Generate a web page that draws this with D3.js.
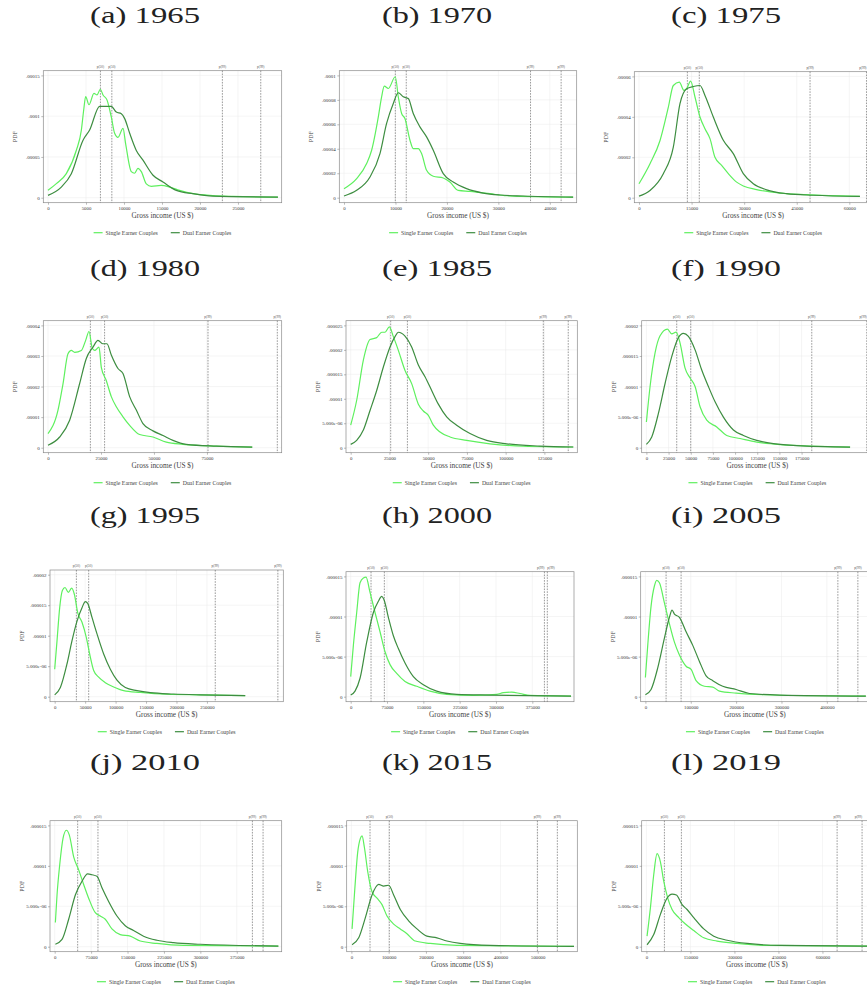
<!DOCTYPE html>
<html><head><meta charset="utf-8">
<script src="https://cdn.jsdelivr.net/npm/d3@7"></script>
<style>body{margin:0;background:#fff}svg{display:block}</style>
</head><body>
<svg id="chart" width="867" height="990"></svg>
<script>
// ---------------- DATA ----------------
const panelLabels = ["(a) 1965","(b) 1970","(c) 1975","(d) 1980","(e) 1985","(f) 1990","(g) 1995","(h) 2000","(i) 2005","(j) 2010","(k) 2015","(l) 2019"];
const seriesNames = ["Single Earner Couples","Dual Earner Couples"];
const vlineLabels = ["p(50)","p(50)","p(99)","p(99)"];

// [income (US $), density]
const single_1965 = [[0,9e-6],[1100,1.72e-5],[2410,2.95e-5],[3730,5.82e-5],[4390,8.28e-5],[4690,1.07e-4],[4960,1.24e-4],[5390,1.14e-4],[6050,1.28e-4],[6450,1.26e-4],[6890,1.33e-4],[7240,1.26e-4],[7760,1.2e-4],[8330,9.9e-5],[8770,7.9e-5],[9210,7.4e-5],[9870,8.5e-5],[10220,6.6e-5],[10960,3.2e-5],[11400,3.0e-5],[11840,3.6e-5],[12280,3.2e-5],[12940,1.7e-5],[13600,1.4e-5],[14910,1.5e-5],[16010,1.3e-5],[17320,9e-6],[19080,4.9e-6],[21710,2.5e-6],[24340,1.6e-6],[30260,8e-7]];
const dual_1965 = [[0,2.9e-6],[1750,1.3e-5],[3070,2.95e-5],[4610,7.05e-5],[5480,8.3e-5],[6800,1.12e-4],[7460,1.12e-4],[8330,1.12e-4],[8990,1.05e-4],[9650,1.03e-4],[10090,9.7e-5],[10750,7.9e-5],[11620,5.8e-5],[12500,4.6e-5],[13820,2.75e-5],[15130,1.93e-5],[16890,9e-6],[19080,4.9e-6],[21710,2e-6],[30260,8e-7]];
const single_1970 = [[0,7.4e-6],[2460,1.56e-5],[4400,2.79e-5],[5370,3.88e-5],[6670,6.61e-5],[7310,8.25e-5],[7830,9.12e-5],[8610,8.93e-5],[9970,9.89e-5],[10550,8.25e-5],[11200,6.88e-5],[11840,6.47e-5],[12820,4.7e-5],[13460,4.02e-5],[14430,4.02e-5],[15080,3.61e-5],[16050,2.24e-5],[17350,1.75e-5],[19290,1.61e-5],[20580,1.28e-5],[22200,6e-6],[24470,5.2e-6],[28350,3.3e-6],[31590,1.6e-6],[44530,5e-7]];
const dual_1970 = [[0,1.4e-6],[2460,6e-6],[5050,1.69e-5],[6990,3.61e-5],[8280,6.07e-5],[9580,7.7e-5],[10550,8.58e-5],[11520,8.25e-5],[12490,8.11e-5],[13460,6.88e-5],[14760,5.79e-5],[16050,4.97e-5],[17350,3.88e-5],[19290,1.97e-5],[21230,1.28e-5],[23820,7.4e-6],[27060,3.8e-6],[30290,2.2e-6],[34820,1.4e-6],[44530,5e-7]];
const single_1975 = [[0,6.9e-6],[3140,1.68e-5],[6000,2.83e-5],[8370,4.48e-5],[9790,5.55e-5],[11500,5.72e-5],[12830,5.31e-5],[13590,5.39e-5],[14730,5.77e-5],[15970,4.98e-5],[17400,3.99e-5],[18820,3.41e-5],[20250,2.92e-5],[21670,2.0e-5],[23570,1.6e-5],[25480,1.19e-5],[27850,7.7e-6],[29750,5.8e-6],[33550,4e-6],[40210,2.3e-6],[47810,1.5e-6],[63020,6.6e-7]];
const dual_1975 = [[0,8e-7],[3140,3.6e-6],[6940,1.19e-5],[9790,2.5e-5],[11690,4.65e-5],[13590,5.39e-5],[15490,5.5e-5],[17400,5.55e-5],[18820,5.06e-5],[21200,3.99e-5],[24050,2.84e-5],[26900,2.18e-5],[29750,1.19e-5],[32600,6.9e-6],[36410,3.9e-6],[42110,2e-6],[49710,1.2e-6],[63020,6.6e-7]];
const single_1980 = [[0,4.6e-6],[4720,1.23e-5],[7080,2.09e-5],[9430,3.07e-5],[11010,3.18e-5],[12580,3.12e-5],[15720,3.18e-5],[17770,3.51e-5],[19340,3.8e-5],[20910,3.25e-5],[22010,3.18e-5],[24060,3.29e-5],[25160,2.63e-5],[27520,2.19e-5],[29870,1.67e-5],[32230,1.34e-5],[35380,1.01e-5],[38520,7.3e-6],[43240,4.3e-6],[49530,3.5e-6],[55820,1.8e-6],[63680,1.1e-6],[79400,5e-7],[96380,2e-7]];
const dual_1980 = [[0,8e-7],[5500,3.5e-6],[10220,9e-6],[14940,2.1e-5],[18080,2.92e-5],[21230,3.29e-5],[23580,3.51e-5],[25940,3.4e-5],[27830,3.4e-5],[29870,3.03e-5],[33020,2.59e-5],[35380,2.43e-5],[38520,1.67e-5],[41670,1.23e-5],[44810,7.9e-6],[49530,5.5e-6],[54250,4e-6],[58960,2.4e-6],[65250,1.1e-6],[79400,5e-7],[96380,2e-7]];
const single_1985 = [[0,4.6e-6],[3870,9.7e-6],[8170,1.79e-5],[12470,2.21e-5],[16770,2.25e-5],[20000,2.36e-5],[22150,2.36e-5],[24950,2.47e-5],[27530,2.27e-5],[30750,1.99e-5],[35050,1.58e-5],[39350,1.31e-5],[43660,8.9e-6],[46880,7.5e-6],[50110,6.6e-6],[53330,4.6e-6],[57630,3.2e-6],[64090,2.2e-6],[74840,1.5e-6],[89890,8e-7],[111400,3e-7],[143650,1.4e-7]];
const dual_1985 = [[0,6.8e-7],[3870,1.5e-6],[8170,3.6e-6],[12470,7.6e-6],[16770,1.17e-5],[21080,1.65e-5],[25380,2.06e-5],[28600,2.27e-5],[30750,2.36e-5],[35050,2.28e-5],[39350,2.06e-5],[43660,1.69e-5],[47960,1.45e-5],[52260,1.17e-5],[56560,8.9e-6],[61940,6.3e-6],[68390,4.6e-6],[76990,2.9e-6],[87740,1.5e-6],[100650,8e-7],[122150,3.4e-7],[143650,1.4e-7]];
const single_1990 = [[0,4.2e-6],[4140,1.0e-5],[9770,1.55e-5],[15410,1.83e-5],[23680,1.94e-5],[28570,1.86e-5],[33460,1.89e-5],[37970,1.71e-5],[43610,1.3e-5],[49250,1.14e-5],[54890,1.0e-5],[60530,6.7e-6],[68050,4.5e-6],[79320,3.4e-6],[90600,2.0e-6],[105640,1.5e-6],[124440,9e-7],[150750,5e-7],[229700,1e-7]];
const dual_1990 = [[0,5.5e-7],[6020,1.76e-6],[13530,5.6e-6],[21050,1.05e-5],[28570,1.49e-5],[36090,1.8e-5],[41730,1.87e-5],[47370,1.82e-5],[54890,1.6e-5],[62410,1.27e-5],[69920,1.0e-5],[77440,7.5e-6],[86840,5.0e-6],[98120,2.9e-6],[109400,2.0e-6],[124440,1.2e-6],[143230,6.6e-7],[169550,3.3e-7],[229700,1e-7]];
const single_1995 = [[0,4.5e-6],[3830,9.2e-6],[8210,1.46e-5],[12580,1.74e-5],[16960,1.79e-5],[22430,1.71e-5],[27900,1.78e-5],[32280,1.68e-5],[37750,1.38e-5],[44860,1.22e-5],[51970,9.7e-6],[57440,7.0e-6],[64000,4.3e-6],[72210,3.2e-6],[83150,2.3e-6],[96830,1.6e-6],[113240,1e-6],[140590,7e-7],[184350,4e-7],[239060,3e-7],[312910,1.6e-7]];
const dual_1995 = [[0,3e-7],[9300,1.5e-6],[20240,5.4e-6],[28450,9.2e-6],[36650,1.24e-5],[44860,1.46e-5],[50330,1.56e-5],[54160,1.53e-5],[61270,1.3e-5],[69470,1.03e-5],[80420,7.0e-6],[91360,4.5e-6],[102300,2.7e-6],[115970,1.5e-6],[135120,1e-6],[157000,6.6e-7],[195300,4.4e-7],[239060,3e-7],[312910,1.6e-7]];
const single_2000 = [[0,2.5e-6],[5510,6.4e-6],[12390,1.05e-5],[19270,1.42e-5],[26150,1.48e-5],[31660,1.49e-5],[39920,1.3e-5],[50240,1.05e-5],[60560,8.1e-6],[70890,5.6e-6],[81210,4.0e-6],[94980,2.9e-6],[112180,1.9e-6],[136270,1.3e-6],[163800,7e-7],[198210,3e-7],[253270,1.6e-7],[301450,3e-7],[315210,5e-7],[332420,5.7e-7],[349620,4e-7],[370270,1.6e-7],[455000,8e-8]];
const dual_2000 = [[0,2e-7],[8950,7e-7],[19270,2.3e-6],[33030,6.8e-6],[46800,1.05e-5],[57120,1.19e-5],[64010,1.25e-5],[68820,1.21e-5],[77770,9.9e-6],[88090,7.6e-6],[98420,6.0e-6],[112180,4.2e-6],[129390,2.5e-6],[150030,1.5e-6],[177560,7e-7],[218860,3e-7],[287680,2e-7],[455000,8e-8]];
const single_2005 = [[0,2.4e-6],[5150,6.4e-6],[12500,1.13e-5],[19850,1.38e-5],[25000,1.45e-5],[30880,1.42e-5],[41910,1.17e-5],[52940,9.1e-6],[63970,6.8e-6],[75000,5.2e-6],[89710,3.8e-6],[100740,3.4e-6],[111760,2.0e-6],[130150,1.3e-6],[148530,1.2e-6],[163240,7e-7],[200000,4.5e-7],[258820,2.4e-7],[369120,1.2e-7],[486000,8e-8]];
const dual_2005 = [[0,2.4e-7],[12500,9e-7],[27210,3.6e-6],[41910,7.3e-6],[52940,9.9e-6],[58820,1.08e-5],[63970,1.03e-5],[75000,9.9e-6],[89710,8.1e-6],[104410,6.4e-6],[119120,4.4e-6],[133820,2.6e-6],[148530,2.0e-6],[170590,1.3e-6],[200000,9e-7],[229410,4e-7],[295590,2e-7],[486000,8e-8]];
const single_2010 = [[1370,3.0e-6],[4800,6.4e-6],[10280,1.01e-5],[17140,1.34e-5],[23990,1.44e-5],[30160,1.38e-5],[39080,1.11e-5],[49360,9.5e-6],[59640,7.7e-6],[69930,6.0e-6],[83640,4.2e-6],[93920,3.8e-6],[104200,3.4e-6],[117910,2.2e-6],[135050,1.5e-6],[155620,1.3e-6],[176180,7e-7],[210460,4e-7],[265300,1.6e-7],[460680,8e-8]];
const dual_2010 = [[1370,3e-7],[15080,9e-7],[28790,3.4e-6],[42500,6.4e-6],[56210,8.1e-6],[67870,9.0e-6],[76780,8.9e-6],[87060,8.7e-6],[97350,7.3e-6],[111060,5.6e-6],[128200,3.8e-6],[145330,2.6e-6],[162470,2.0e-6],[183040,1.3e-6],[210460,8e-7],[244740,5e-7],[299580,3e-7],[460680,8e-8]];
const single_2015 = [[1790,2.2e-6],[8040,6.4e-6],[16960,1.17e-5],[24110,1.34e-5],[28570,1.37e-5],[34820,1.23e-5],[43750,9.3e-6],[55360,6.8e-6],[68750,6.0e-6],[82140,5.2e-6],[95540,3.8e-6],[113390,2.8e-6],[131250,2.2e-6],[149110,1.6e-6],[171430,7e-7],[211610,4e-7],[283040,1.6e-7],[597320,4e-8]];
const dual_2015 = [[1790,2.4e-7],[19640,1.1e-6],[37500,3.6e-6],[55360,6.4e-6],[73210,7.7e-6],[86610,7.5e-6],[100000,7.6e-6],[113390,6.4e-6],[131250,4.6e-6],[153570,3.2e-6],[175890,2.2e-6],[202680,1.3e-6],[229460,1.1e-6],[256250,7e-7],[291960,4e-7],[372320,1.6e-7],[597320,4e-8]];
const single_2019 = [[2270,1.3e-6],[13640,4.8e-6],[25000,8.9e-6],[36360,1.15e-5],[47730,1.05e-5],[59090,8.1e-6],[72730,6.0e-6],[87500,4.6e-6],[110230,3.6e-6],[132950,2.8e-6],[161360,2.0e-6],[195450,1.1e-6],[240910,7e-7],[309090,4e-7],[411360,1.6e-7],[752270,8e-8]];
const dual_2019 = [[2270,2.4e-7],[25000,1.5e-6],[47730,4.0e-6],[70450,6.0e-6],[87500,6.5e-6],[102270,6.4e-6],[121590,5.2e-6],[138640,4.6e-6],[161360,3.6e-6],[195450,2.2e-6],[229550,1.3e-6],[275000,8e-7],[343180,4e-7],[456820,1.6e-7],[752270,8e-8]];

// percentile reference lines (US $)
const vlines_1965 = [6900,8400,22950,28000];
const vlines_1970 = [9970,12100,36250,42200];
const vlines_1975 = [13800,17200,48800,64900];
const vlines_1980 = [20000,26700,75500,108200];
const vlines_1985 = [25800,36600,124300,140400];
const vlines_1990 = [34200,50000,186500,248500];
const vlines_1995 = [35600,55800,263700,366500];
const vlines_2000 = [42000,69500,400000,406000];
const vlines_2005 = [45600,78700,424300,468400];
const vlines_2010 = [47300,89100,407200,429200];
const vlines_2015 = [50000,101800,499100,552700];
const vlines_2019 = [61400,119300,650000,735000];

// tick values
const xTicks_1965 = [0,5000,10000,15000,20000,25000];
const xTicks_1970 = [0,10000,20000,30000,40000];
const xTicks_1975 = [0,15000,30000,45000,60000];
const xTicks_1980 = [0,25000,50000,75000];
const xTicks_1985 = [0,25000,50000,75000,100000,125000];
const xTicks_1990 = [0,25000,50000,75000,100000,125000,150000,175000];
const xTicks_1995 = [0,50000,100000,150000,200000,250000];
const xTicks_2000 = [0,75000,150000,225000,300000,375000];
const xTicks_2005 = [0,100000,200000,300000,400000];
const xTicks_2010 = [0,75000,150000,225000,300000,375000];
const xTicks_2015 = [0,100000,200000,300000,400000,500000];
const xTicks_2019 = [0,150000,300000,450000,600000];

const yTicks_1965 = [0,0.00005,0.0001,0.00015];
const yTicks_1970 = [0,0.00002,0.00004,0.00006,0.00008,0.0001];
const yTicks_1975 = [0,0.00002,0.00004,0.00006];
const yTicks_1980 = [0,0.00001,0.00002,0.00003,0.00004];
const yTicks_1985 = [0,0.000005,0.00001,0.000015,0.00002,0.000025];
const yTicks_1990 = [0,0.000005,0.00001,0.000015,0.00002];
const yTicks_1995 = [0,0.000005,0.00001,0.000015,0.00002];
const yTicks_2000 = [0,0.000005,0.00001,0.000015];
const yTicks_2005 = [0,0.000005,0.00001,0.000015];
const yTicks_2010 = [0,0.000005,0.00001,0.000015];
const yTicks_2015 = [0,0.000005,0.00001,0.000015];
const yTicks_2019 = [0,0.000005,0.00001,0.000015];

// x-axis upper limit of each panel (US $)
const xMaxes = [30400,44700,65700,109000,144500,252500,371000,455500,487000,462000,599000,760000];

const singles = [single_1965,single_1970,single_1975,single_1980,single_1985,single_1990,single_1995,single_2000,single_2005,single_2010,single_2015,single_2019];
const duals = [dual_1965,dual_1970,dual_1975,dual_1980,dual_1985,dual_1990,dual_1995,dual_2000,dual_2005,dual_2010,dual_2015,dual_2019];
const vlinesAll = [vlines_1965,vlines_1970,vlines_1975,vlines_1980,vlines_1985,vlines_1990,vlines_1995,vlines_2000,vlines_2005,vlines_2010,vlines_2015,vlines_2019];
const xTicksAll = [xTicks_1965,xTicks_1970,xTicks_1975,xTicks_1980,xTicks_1985,xTicks_1990,xTicks_1995,xTicks_2000,xTicks_2005,xTicks_2010,xTicks_2015,xTicks_2019];
const yTicksAll = [yTicks_1965,yTicks_1970,yTicks_1975,yTicks_1980,yTicks_1985,yTicks_1990,yTicks_1995,yTicks_2000,yTicks_2005,yTicks_2010,yTicks_2015,yTicks_2019];

// ---------------- LAYOUT ----------------
const boxes = [
  [43.3,70.7,281.7,202.7],[339.3,70.7,576.7,202.7],[634.3,71.7,872,202.7],
  [43.3,320.7,281.7,452.7],[346,320.7,577.3,452.7],[641.7,320.7,873,452.7],
  [50,570,283.3,701.7],[346,571.7,574,701.7],[640.7,571.7,869,701.7],
  [50,820.7,281.7,951.7],[346.7,820.7,577.3,951.7],[641.7,820.7,872.1,951.7]
];
const titleX = [145,437,726];
const titleY = [23,276,523,770];
const W = 867;

const colSingle = "#5ef05e";
const colDual = "#3d8d40";
const serif = "'Liberation Serif','DejaVu Serif',serif";

const svg = d3.select("#chart");
svg.append("rect").attr("width",W).attr("height",990).attr("fill","#fff");

function fmtY(v){
  if (v === 0) return "0";
  if (v < 0.00001) {
    const s = v.toExponential(3);
    return s.replace(/e([+-])(\d)$/, "e$10$2");
  }
  return String(+v.toPrecision(6)).replace(/^0\./, ".");
}

panelLabels.forEach((lab, i) => {
  const [L,T,R,B] = boxes[i];
  const g = svg.append("g");
  const x = d3.scaleLinear().domain([0, xMaxes[i]]).range([L+4.7, R-2.7]);
  const yt = yTicksAll[i];
  const y = d3.scaleLinear().domain([0, yt[yt.length-1]]).range([B-5, T+4.7]);

  // title
  svg.append("text").attr("x", titleX[i%3]).attr("y", titleY[Math.floor(i/3)])
    .attr("text-anchor","middle").attr("font-family",serif).attr("font-size",24)
    .attr("textLength",110).attr("lengthAdjust","spacingAndGlyphs")
    .attr("fill","#222").text(lab);

  // grid
  g.append("g").selectAll("line").data(xTicksAll[i]).join("line")
    .attr("x1",d=>x(d)).attr("x2",d=>x(d)).attr("y1",T).attr("y2",B)
    .attr("stroke","#ebebeb").attr("stroke-width",0.5);
  g.append("g").selectAll("line").data(yt).join("line")
    .attr("x1",L).attr("x2",R).attr("y1",d=>y(d)).attr("y2",d=>y(d))
    .attr("stroke","#ebebeb").attr("stroke-width",0.5);

  // box
  g.append("rect").attr("x",L).attr("y",T).attr("width",R-L).attr("height",B-T)
    .attr("fill","none").attr("stroke","#8a8a8a").attr("stroke-width",0.7);

  // axes
  const ya = g.append("g").attr("transform",`translate(${L},0)`)
    .call(d3.axisLeft(y).tickValues(yt).tickSize(2).tickPadding(1.5).tickFormat(fmtY));
  ya.select(".domain").remove();
  ya.selectAll("line").attr("stroke","#777").attr("stroke-width",0.5);
  ya.selectAll("text").attr("font-family",serif).attr("font-size",5).attr("fill","#333");

  const xa = g.append("g").attr("transform",`translate(0,${B})`)
    .call(d3.axisBottom(x).tickValues(xTicksAll[i]).tickSize(2).tickPadding(1.5).tickFormat(d3.format("d")));
  xa.select(".domain").remove();
  xa.selectAll("line").attr("stroke","#777").attr("stroke-width",0.5);
  xa.selectAll("text").attr("font-family",serif).attr("font-size",4.8).attr("fill","#333");

  // axis titles
  g.append("text").attr("x",(L+R)/2).attr("y",B+15.5).attr("text-anchor","middle")
    .attr("font-family",serif).attr("font-size",7.3).attr("fill","#444").text("Gross income (US $)");
  g.append("text").attr("transform",`translate(${L-26},${(T+B)/2}) rotate(-90)`)
    .attr("text-anchor","middle").attr("font-family",serif).attr("font-size",6).attr("fill","#444").text("PDF");

  // vertical reference lines
  const vl = vlinesAll[i];
  g.append("g").selectAll("line").data(vl).join("line")
    .attr("x1",d=>x(d)).attr("x2",d=>x(d)).attr("y1",T).attr("y2",B)
    .attr("stroke","#555").attr("stroke-width",0.6).attr("stroke-dasharray","1.6,1.2");
  g.append("g").selectAll("text").data(vl).join("text")
    .attr("x",d=>x(d)).attr("y",T-3)
    .attr("text-anchor",(d,k)=>{
      const px = x(d);
      if (px + 5 > W) return "end";
      if (k < vl.length-1 && x(vl[k+1]) - px < 9) return "end";
      if (k > 0 && px - x(vl[k-1]) < 9) return "start";
      return "middle";
    })
    .attr("font-family",serif).attr("font-size",3.4).attr("fill","#555")
    .text((d,k)=>vlineLabels[k]);

  // curves
  const line = d3.line().x(d=>x(d[0])).y(d=>y(d[1])).curve(d3.curveMonotoneX);
  g.append("path").datum(singles[i]).attr("d",line).attr("fill","none")
    .attr("stroke",colSingle).attr("stroke-width",1.2);
  g.append("path").datum(duals[i]).attr("d",line).attr("fill","none")
    .attr("stroke",colDual).attr("stroke-width",1.2);

  // legend
  const lg = g.append("g");
  const ly = B + 30;
  const t1 = lg.append("text").attr("font-family",serif).attr("font-size",5.8).attr("fill","#444").text(seriesNames[0]);
  const t2 = lg.append("text").attr("font-family",serif).attr("font-size",5.8).attr("fill","#444").text(seriesNames[1]);
  const w1 = t1.node().getComputedTextLength(), w2 = t2.node().getComputedTextLength();
  const total = 9 + 3 + w1 + 13 + 9 + 3 + w2;
  let sx = (L+R)/2 - total/2;
  lg.append("line").attr("x1",sx).attr("x2",sx+9).attr("y1",ly).attr("y2",ly).attr("stroke",colSingle).attr("stroke-width",1.2);
  t1.attr("x",sx+12).attr("y",ly+2);
  sx += 12 + w1 + 13;
  lg.append("line").attr("x1",sx).attr("x2",sx+9).attr("y1",ly).attr("y2",ly).attr("stroke",colDual).attr("stroke-width",1.2);
  t2.attr("x",sx+12).attr("y",ly+2);
});
</script>
</body></html>
